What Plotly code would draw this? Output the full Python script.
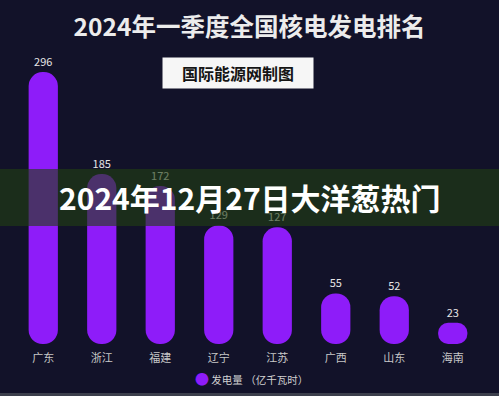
import plotly.graph_objects as go

categories = ["广东", "浙江", "福建", "辽宁", "江苏", "广西", "山东", "海南"]
values = [296, 185, 172, 129, 127, 55, 52, 23]
series_name = "发电量 （亿千瓦时）"
title_text = "2024年一季度全国核电发电排名"
source_text = "国际能源网制图"
banner_text = "2024年12月27日大洋葱热门"

BG = "#121229"
PURPLE = "#8E1CF9"
FONT = "Noto Sans CJK SC"

W, H = 499, 396
L, Rm, T, B = 14, 17, 50, 52
pw, ph = W - L - Rm, H - T - B

def px_x(x):
    return (x - L) / pw

def px_y(y):
    return (H - B - y) / ph

fig = go.Figure()
fig.add_trace(go.Bar(
    x=categories, y=values, base=[0] * len(values), width=0.5, name=series_name,
    marker=dict(color=PURPLE, cornerradius="50%", line=dict(width=0)),
    text=[str(v) for v in values], textposition="outside",
    outsidetextfont=dict(color="#e6e6e6", size=11, family=FONT),
    cliponaxis=False, showlegend=False, hoverinfo="skip",
))

fig.update_layout(
    width=W, height=H,
    margin=dict(l=L, r=Rm, t=T, b=B, autoexpand=False),
    paper_bgcolor=BG, plot_bgcolor=BG,
    showlegend=False,
    font=dict(family=FONT, color="#cccccc", size=11),
    title=dict(text="<b>" + title_text + "</b>", x=0.5, xanchor="center",
               y=1 - 27 / H, yanchor="middle", yref="container",
               font=dict(size=24.5, color="#ececec", family=FONT)),
    xaxis=dict(showgrid=False, zeroline=False, showline=False, ticks="",
               ticklabelstandoff=6,
               tickfont=dict(size=11, color="#c8c8c8", family=FONT)),
    yaxis=dict(range=[0, 320], visible=False, showgrid=False, zeroline=False),
    shapes=[
        dict(type="rect", xref="paper", yref="paper",
             x0=px_x(0) - 0.01, x1=px_x(W) + 0.01, y0=px_y(226), y1=px_y(169),
             fillcolor="rgba(34,63,19,0.62)", line=dict(width=0), layer="above"),
        dict(type="rect", xref="paper", yref="paper",
             x0=px_x(0) - 0.01, x1=px_x(W) + 0.01, y0=px_y(396), y1=px_y(393),
             fillcolor="#3c3f4c", line=dict(width=0), layer="above"),
    ],
    annotations=[
        dict(text="<b>" + source_text + "</b>", xref="paper", yref="paper",
             x=px_x(238), y=px_y(73), xanchor="center", yanchor="middle",
             showarrow=False, bgcolor="#f6f6f6", width=148, height=28,
             font=dict(size=16, color="#151515", family=FONT)),
        dict(text="<b>" + banner_text + "</b>", xref="paper", yref="paper",
             x=px_x(250), y=px_y(197), xanchor="center", yanchor="middle",
             showarrow=False, font=dict(size=30, color="#ffffff", family=FONT)),
        dict(text='<span style="color:' + PURPLE + ';font-size:14px">●</span> ' + series_name,
             xref="paper", yref="paper",
             x=px_x(193), y=px_y(378), xanchor="left", yanchor="middle",
             showarrow=False, font=dict(size=10.5, color="#d0d0d0", family=FONT)),
    ],
)

fig.write_html("out.html", config={"displayModeBar": False},
               post_script="document.body.style.margin='0';")
